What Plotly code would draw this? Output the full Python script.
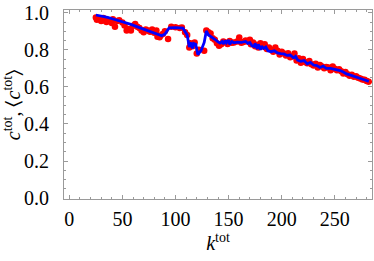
import plotly.graph_objects as go

# Red points: individual nodes (k_tot, c_tot)
red_k = [25, 26, 28, 30, 32, 33, 35, 36, 38, 40, 41, 43, 45, 47, 50, 52, 54, 56, 58, 60,
         62, 64, 66, 68, 70, 72, 74, 76, 78, 80, 82, 83, 85, 86, 88, 90, 93, 96, 100, 104,
         106, 109, 111, 113, 114, 116, 118, 120, 122, 127, 129, 131, 133, 135, 137, 139, 141, 143, 145, 147,
         149, 151, 153, 155, 158, 160, 162, 164, 166, 168, 170, 171, 173, 175, 176, 178, 180, 182, 184, 186,
         188, 190, 192, 194, 196, 198, 200, 202, 204, 206, 208, 210, 212, 214, 216, 218, 220, 222, 224, 226,
         228, 230, 232, 234, 236, 238, 240, 242, 244, 246, 248, 250, 252, 254, 256, 258, 260, 262, 264, 266,
         268, 270, 272, 274, 276, 278, 280, 282]
red_c = [0.975, 0.962, 0.968, 0.955, 0.972, 0.958, 0.950, 0.962, 0.955, 0.945, 0.965, 0.925, 0.955, 0.960, 0.948, 0.932, 0.905, 0.912, 0.905, 0.930,
         0.940, 0.925, 0.918, 0.905, 0.895, 0.910, 0.905, 0.898, 0.910, 0.892, 0.905, 0.870, 0.868, 0.878, 0.885, 0.900, 0.858, 0.925, 0.922, 0.918,
         0.920, 0.895, 0.880, 0.812, 0.835, 0.820, 0.840, 0.780, 0.800, 0.795, 0.905, 0.895, 0.888, 0.862, 0.855, 0.835, 0.822, 0.830, 0.845, 0.840,
         0.832, 0.848, 0.838, 0.840, 0.845, 0.866, 0.838, 0.842, 0.850, 0.845, 0.855, 0.830, 0.840, 0.820, 0.828, 0.812, 0.835, 0.818, 0.830, 0.805,
         0.812, 0.800, 0.790, 0.812, 0.795, 0.775, 0.790, 0.780, 0.770, 0.782, 0.760, 0.765, 0.780, 0.742, 0.755, 0.730, 0.750, 0.735, 0.728, 0.740,
         0.722, 0.715, 0.725, 0.705, 0.718, 0.710, 0.700, 0.708, 0.705, 0.690, 0.710, 0.698, 0.690, 0.695, 0.685, 0.672, 0.680, 0.668, 0.660, 0.665,
         0.655, 0.658, 0.650, 0.645, 0.640, 0.638, 0.632, 0.628]

# Blue line: average <c_tot> per k_tot
blue_k = [25, 30, 36, 42, 50, 58, 66, 74, 82, 87, 90, 94, 100, 107, 111, 113, 114, 116, 117, 119,
          121, 124, 127, 129, 131, 134, 137, 140, 142, 144, 145, 147, 148, 150, 151, 153, 155, 158, 162, 166,
          168, 170, 172, 174, 175, 177, 178, 180, 181, 183, 185, 187, 190, 193, 196, 199, 202, 205, 208, 211,
          213, 215, 218, 221, 224, 227, 230, 233, 236, 239, 242, 246, 249, 252, 255, 258, 261, 264, 267, 270,
          273, 276, 279, 282]
blue_c = [0.988, 0.983, 0.975, 0.965, 0.952, 0.937, 0.920, 0.903, 0.887, 0.876, 0.885, 0.918, 0.920, 0.917, 0.880, 0.815, 0.840, 0.808, 0.835, 0.830,
          0.775, 0.795, 0.840, 0.902, 0.880, 0.870, 0.857, 0.843, 0.836, 0.845, 0.832, 0.850, 0.838, 0.852, 0.830, 0.845, 0.838, 0.842, 0.840, 0.845,
          0.835, 0.840, 0.822, 0.818, 0.835, 0.805, 0.830, 0.800, 0.820, 0.808, 0.815, 0.795, 0.790, 0.795, 0.783, 0.780, 0.778, 0.770, 0.772, 0.757,
          0.765, 0.745, 0.738, 0.742, 0.725, 0.732, 0.718, 0.715, 0.705, 0.712, 0.700, 0.700, 0.697, 0.692, 0.688, 0.680, 0.670, 0.665, 0.660, 0.652,
          0.648, 0.642, 0.636, 0.630]

x_ticks = [0, 50, 100, 150, 200, 250]
y_ticks = [0.0, 0.2, 0.4, 0.6, 0.8, 1.0]
y_ticklabels = ["0.0", "0.2", "0.4", "0.6", "0.8", "1.0"]

FONT = "Liberation Serif, Times New Roman, Times, serif"
AX = "#9a9a9a"

fig = go.Figure()
fig.add_trace(go.Scatter(x=red_k, y=red_c, mode="markers",
                         marker=dict(color="#ff0000", size=6.5, line=dict(width=0)),
                         showlegend=False))
fig.add_trace(go.Scatter(x=blue_k, y=blue_c, mode="lines",
                         line=dict(color="#0000ff", width=2.8),
                         showlegend=False))

fig.update_layout(
    width=374, height=261,
    margin=dict(l=64, r=2, t=10, b=62, autoexpand=False),
    paper_bgcolor="white", plot_bgcolor="white",
    font=dict(family=FONT, size=20, color="black"),
    xaxis=dict(range=[-5, 285], tickvals=x_ticks, ticks="inside", ticklen=4,
               tickcolor=AX, showgrid=False, zeroline=False, showline=True,
               linecolor=AX, linewidth=1, mirror="ticks",
               minor=dict(dtick=10, tick0=0, ticks="inside", ticklen=2, tickcolor=AX),
               ticklabelstandoff=2, automargin=False,
               title=dict(text="<i>k</i><sup>tot</sup>", standoff=4, font=dict(size=20))),
    yaxis=dict(range=[-0.005, 1.015], tickvals=y_ticks, ticktext=y_ticklabels,
               ticks="inside", ticklen=4, tickcolor=AX, showgrid=False, zeroline=False,
               showline=True, linecolor=AX, linewidth=1, mirror="ticks",
               minor=dict(dtick=0.05, tick0=0, ticks="inside", ticklen=2, tickcolor=AX),
               ticklabelstandoff=10, automargin=False,
               title=dict(text="<i>c</i><sup>tot</sup>, \u2329<i>c</i><sup>tot</sup>\u232A",
                          standoff=4, font=dict(size=20))),
)

fig.write_html("out.html", config={"displayModeBar": False},
               post_script="document.body.style.margin='0';")
